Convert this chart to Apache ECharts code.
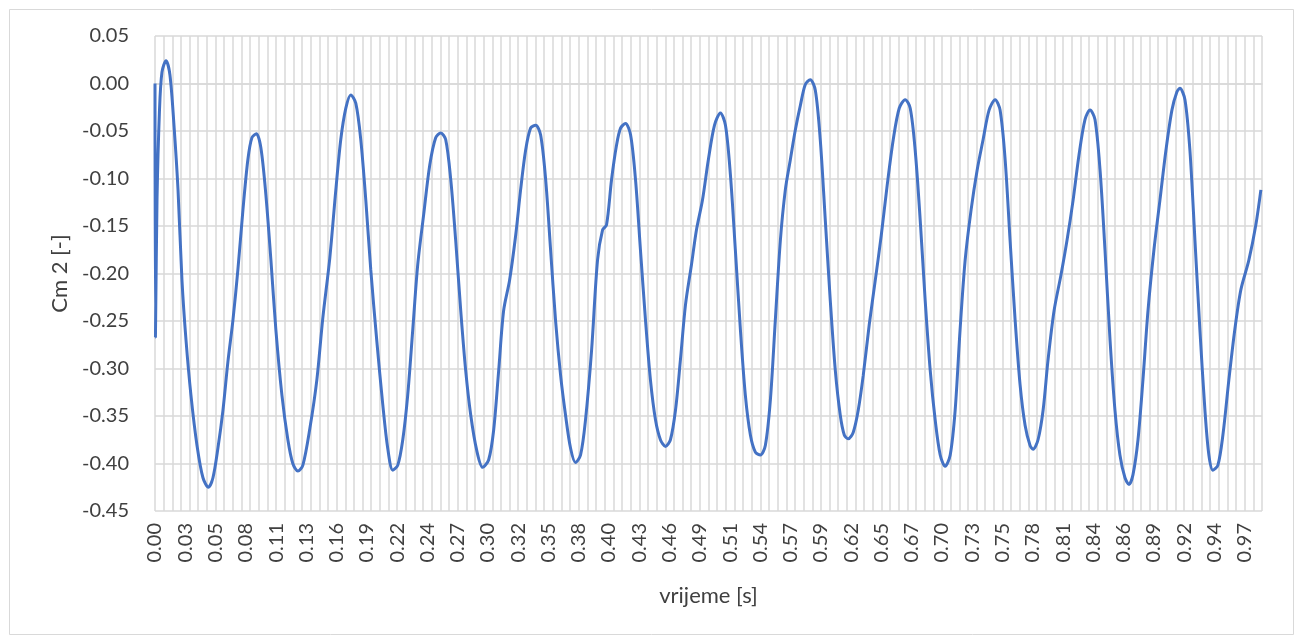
<!DOCTYPE html>
<html>
<head>
<meta charset="utf-8">
<script src="https://cdn.jsdelivr.net/npm/echarts@6/dist/echarts.min.js"></script>
<style>
html,body{margin:0;padding:0;background:#fff;}
#chart{width:1298px;height:639px;}
</style>
</head>
<body>
<div id="chart"></div>
<script>
// time [s]
const times = [
0,0.0004,0.0018,0.0040,0.0062,0.0098,0.0133,0.0169,0.0205,0.0240,0.0276,0.0320,0.0374,0.0427,0.0476,0.0516,0.0560,0.0605,0.0649,0.0694,0.0738,0.0783,0.0827,0.0863,0.0903,0.0943,0.0987,0.1032,0.1076,0.1130,0.1183,0.1227,0.1272,0.1316,0.1379,0.1441,0.1494,0.1556,0.1610,0.1654,0.1699,0.1743,0.1788,0.1832,0.1877,0.1921,0.1974,0.2028,0.2072,0.2117,
0.2161,0.2206,0.2250,0.2295,0.2339,0.2392,0.2446,0.2499,0.2544,0.2588,0.2633,0.2677,0.2722,0.2766,0.2811,0.2864,0.2917,
0.2971,0.3015,0.3060,0.3104,0.3157,0.3211,0.3255,0.3300,0.3344,0.3389,0.3433,0.3478,0.3522,0.3566,0.3611,0.3655,0.3700,0.3744,
0.3789,0.3833,0.3887,0.3940,0.3985,0.4020,0.4065,0.4109,0.4145,0.4189,0.4234,0.4278,0.4322,0.4367,0.4411,0.4456,0.4500,0.4545,
0.4589,0.4634,0.4678,0.4723,0.4776,0.4821,0.4874,0.4927,0.4981,0.5034,0.5079,0.5123,0.5167,0.5212,0.5256,0.5301,0.5345,0.5390,
0.5434,0.5479,0.5523,0.5568,0.5612,0.5657,0.5701,0.5746,0.5790,0.5834,0.5879,0.5923,0.5968,0.6012,0.6057,0.6101,0.6137,0.6172,
0.6217,0.6261,0.6306,0.6359,0.6413,0.6466,0.6519,0.6573,0.6626,0.6679,0.6724,0.6768,0.6813,0.6857,0.6902,0.6946,0.6991,0.7035,
0.7080,0.7124,0.7168,0.7213,0.7266,0.7320,0.7373,0.7426,0.7480,0.7524,0.7569,0.7613,0.7658,0.7702,0.7747,0.7791,0.7818,
0.7862,0.7907,0.7951,0.8005,0.8067,0.8120,0.8174,0.8227,0.8280,0.8325,0.8369,0.8414,0.8458,0.8503,0.8547,0.8591,0.8636,0.8672,
0.8707,0.8752,0.8796,0.8841,0.8894,0.8947,0.9001,0.9054,0.9098,0.9125,0.9170,0.9214,0.9259,0.9303,0.9348,0.9383,0.9419,
0.9463,0.9508,0.9561,0.9614,0.9668,0.9739,0.9801,0.9846
];
// Cm 2 [-]
const values = [
0.000,-0.267,-0.122,-0.028,0.012,0.024,0.009,-0.044,-0.112,-0.207,-0.270,-0.328,-0.381,-0.415,-0.425,-0.415,-0.384,-0.344,-0.293,-0.249,-0.196,-0.133,-0.080,-0.057,-0.053,-0.068,-0.117,-0.186,-0.259,-0.328,-0.375,-0.400,-0.408,-0.402,-0.363,-0.312,-0.247,-0.184,-0.112,-0.059,-0.026,-0.012,-0.021,-0.059,-0.123,-0.196,-0.270,-0.338,-0.384,-0.407,
-0.402,-0.375,-0.328,-0.259,-0.191,-0.138,-0.086,-0.057,-0.052,-0.059,-0.101,-0.165,-0.239,-0.302,-0.349,-0.386,-0.404,
-0.396,-0.365,-0.302,-0.239,-0.207,-0.160,-0.112,-0.070,-0.047,-0.044,-0.054,-0.101,-0.175,-0.249,-0.307,-0.349,-0.384,-0.399,
-0.391,-0.354,-0.281,-0.186,-0.154,-0.149,-0.101,-0.065,-0.047,-0.042,-0.054,-0.101,-0.175,-0.249,-0.312,-0.354,-0.375,-0.382,
-0.375,-0.344,-0.291,-0.233,-0.191,-0.154,-0.123,-0.080,-0.044,-0.031,-0.044,-0.096,-0.175,-0.259,-0.328,-0.370,-0.388,-0.391,
-0.381,-0.333,-0.249,-0.165,-0.112,-0.080,-0.049,-0.023,-0.001,0.004,-0.007,-0.059,-0.144,-0.228,-0.302,-0.349,-0.370,-0.374,
-0.367,-0.344,-0.307,-0.254,-0.207,-0.160,-0.107,-0.059,-0.026,-0.017,-0.026,-0.070,-0.144,-0.228,-0.302,-0.354,-0.391,-0.403,
-0.391,-0.344,-0.259,-0.186,-0.133,-0.091,-0.059,-0.028,-0.017,-0.028,-0.080,-0.165,-0.249,-0.317,-0.360,-0.381,-0.385,
-0.375,-0.344,-0.291,-0.239,-0.201,-0.165,-0.123,-0.075,-0.038,-0.028,-0.038,-0.091,-0.175,-0.270,-0.344,-0.391,-0.415,-0.422,
-0.412,-0.375,-0.312,-0.239,-0.175,-0.123,-0.070,-0.028,-0.009,-0.005,-0.017,-0.070,-0.165,-0.259,-0.344,-0.391,-0.407,
-0.402,-0.370,-0.312,-0.259,-0.217,-0.186,-0.149,-0.112
];
// axis settings (values)
const yMin = -0.45, yMax = 0.05, yStep = 0.05;
const tEnd = 0.9856, labelStep = 0.02695, gridStep = 0.0077;

const textColor = '#404040';
const gridColor = '#d9d9d9';
const font = 'Lato, "Open Sans", sans-serif';

const chart = echarts.init(document.getElementById('chart'), null, {renderer: 'canvas'});
chart.setOption({
  animation: false,
  backgroundColor: '#ffffff',
  graphic: [{
    type: 'rect', left: 7, top: 7,
    shape: {width: 1284, height: 625},
    style: {fill: 'none', stroke: gridColor, lineWidth: 1},
    silent: true
  }],
  grid: {left: 155, right: 36, top: 36, bottom: 128, containLabel: false},
  xAxis: [{
    type: 'value', min: 0, max: tEnd, interval: labelStep,
    name: 'vrijeme [s]', nameLocation: 'middle', nameGap: 74,
    nameTextStyle: {color: textColor, fontSize: 22, fontFamily: font},
    axisLine: {show: true, lineStyle: {color: gridColor, width: 1.5}},
    axisTick: {show: false},
    splitLine: {show: false},
    axisLabel: {rotate: 90, margin: 12, color: textColor, fontSize: 20, fontFamily: font,
      showMaxLabel: false, formatter: v => v.toFixed(2)}
  }, {
    type: 'value', min: 0, max: tEnd, interval: gridStep, position: 'bottom',
    axisLine: {show: false}, axisTick: {show: false}, axisLabel: {show: false},
    splitLine: {show: true, lineStyle: {color: gridColor, width: 1.5}}
  }],
  yAxis: {
    type: 'value', min: yMin, max: yMax, interval: yStep,
    name: 'Cm 2 [-]', nameLocation: 'middle', nameGap: 78, nameRotate: 90,
    nameTextStyle: {color: textColor, fontSize: 22, fontFamily: font},
    axisLine: {show: false}, axisTick: {show: false},
    splitLine: {show: true, lineStyle: {color: gridColor, width: 1.5}},
    axisLabel: {margin: 26, color: textColor, fontSize: 20, fontFamily: font,
      formatter: v => v.toFixed(2)}
  },
  series: [{
    type: 'line', xAxisIndex: 0,
    data: times.map((t, i) => [t, values[i]]),
    smooth: 0.3, showSymbol: false,
    lineStyle: {color: '#4472c4', width: 3},
    z: 5
  }]
});
</script>
</body>
</html>
